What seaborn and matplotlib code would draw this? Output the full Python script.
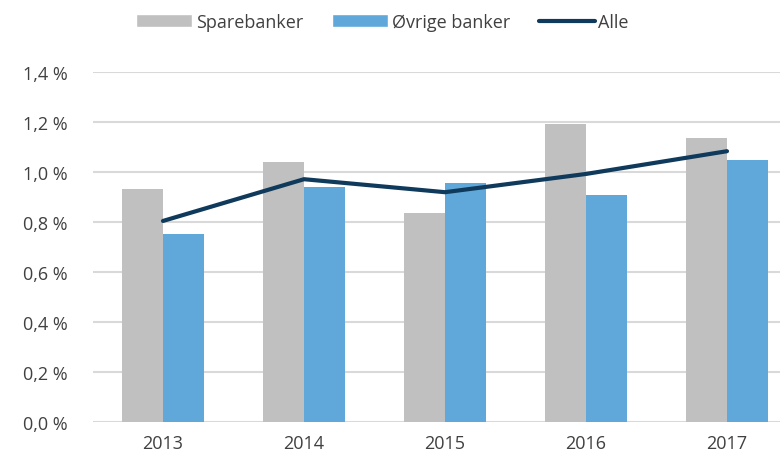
import matplotlib
matplotlib.use("Agg")
import matplotlib.pyplot as plt
import seaborn as sns
import pandas as pd
import numpy as np
from matplotlib.patches import Patch
from matplotlib.lines import Line2D
from matplotlib.ticker import FuncFormatter

# Data (percent)
years = ["2013", "2014", "2015", "2016", "2017"]
sparebanker = [0.931, 1.040, 0.836, 1.192, 1.135]
ovrige_banker = [0.752, 0.938, 0.954, 0.906, 1.047]
alle = [0.803, 0.970, 0.918, 0.991, 1.082]

series_names = ["Sparebanker", "Øvrige banker"]
colors = {"Sparebanker": "#C0C0C0", "Øvrige banker": "#5FA8D9"}
line_color = "#0F3A5C"
text_color = "#404040"

df = pd.DataFrame({
    "year": years * 2,
    "serie": [series_names[0]] * len(years) + [series_names[1]] * len(years),
    "value": sparebanker + ovrige_banker,
})

sns.set_style("white")
plt.rcParams['font.family'] = ['Open Sans', 'DejaVu Sans']

fig = plt.figure(figsize=(7.81, 4.64), dpi=100)
ax = fig.add_axes([92.5 / 781, (464 - 422.7) / 464, (780 - 92.5) / 781, 350 / 464])

sns.barplot(data=df, x="year", y="value", hue="serie", palette=colors,
            width=0.58, gap=0, saturation=1, linewidth=0, ax=ax,
            legend=False, zorder=2)
sns.lineplot(x=np.arange(len(years)), y=alle, color=line_color, linewidth=3,
             ax=ax, zorder=3)

ax.set_ylim(0, 1.4)
ax.set_xlim(-0.5, 4.376)
ax.set_yticks(np.arange(0, 1.41, 0.2))
ax.yaxis.set_major_formatter(FuncFormatter(lambda v, p: f"{v:.1f} %".replace(".", ",")))
ax.grid(axis="y", color="#D9D9D9", linewidth=1.5, zorder=0)
ax.set_axisbelow(True)
for s in ax.spines.values():
    s.set_visible(False)
ax.set_xlabel("")
ax.set_ylabel("")
ax.tick_params(axis="both", length=0, labelsize=13, colors=text_color)
ax.tick_params(axis="x", pad=9)
ax.tick_params(axis="y", pad=18)

handles = [
    Patch(facecolor=colors["Sparebanker"], label="Sparebanker"),
    Patch(facecolor=colors["Øvrige banker"], label="Øvrige banker"),
    Line2D([0], [0], color=line_color, linewidth=3, label="Alle"),
]
leg = fig.legend(handles=handles, loc="center", bbox_to_anchor=(0.49, 1 - 23 / 464),
                 ncol=3, frameon=False, fontsize=13, handlelength=3.1,
                 handleheight=0.75, handletextpad=0.2, columnspacing=1.6)
for t in leg.get_texts():
    t.set_color(text_color)

fig.savefig("out.png", dpi=100)
